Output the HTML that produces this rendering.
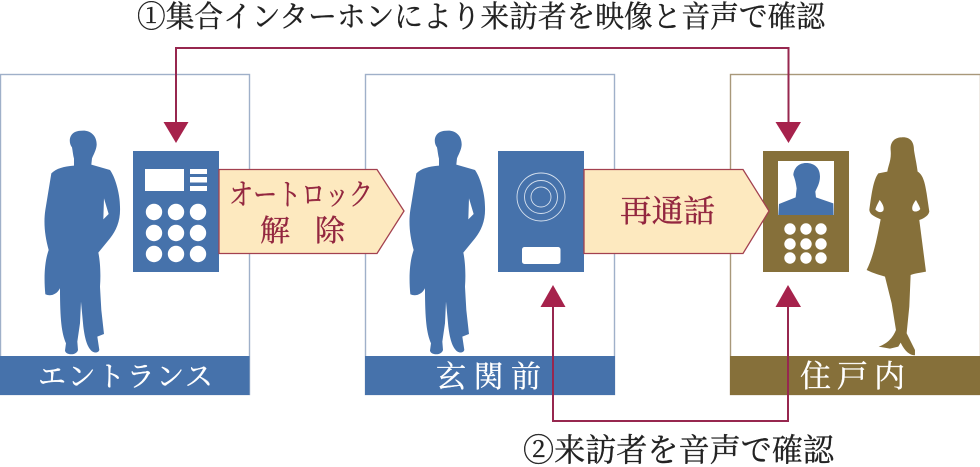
<!DOCTYPE html>
<html><head><meta charset="utf-8"><style>
html,body{margin:0;padding:0;background:#fff;width:980px;height:467px;overflow:hidden}
svg{display:block}
text{font-family:"Liberation Serif","Noto Serif CJK SC",serif}
</style></head><body>
<svg width="980" height="467" viewBox="0 0 980 467" xmlns="http://www.w3.org/2000/svg">
<rect width="980" height="467" fill="#fff"/>
<!-- boxes -->
<rect x="0.5" y="74.5" width="249" height="320" fill="#fff" stroke="#9fb0c9" stroke-width="1.4"/>
<rect x="365.5" y="74.5" width="249" height="320" fill="#fff" stroke="#9fb0c9" stroke-width="1.4"/>
<rect x="730.5" y="74.5" width="250" height="320" fill="#fff" stroke="#a8987a" stroke-width="1.4"/>
<rect x="0" y="356" width="249.500" height="39" fill="#4672ab"/>
<rect x="365" y="356" width="250" height="39" fill="#4672ab"/>
<rect x="730" y="356" width="250" height="39" fill="#86703a"/>
<!-- men -->
<g transform="translate(0,60) scale(0.3333)">
<path fill="#4672ab" d="M250 212C272 212 291 228 290 255C289 270 280 285 276 295L274 314L330 330C345 350 360 400 360 440C362 480 350 510 330 535L295 578C300 600 303 640 300 680L304 750L312 822L292 830L298 870C295 880 280 880 272 870C262 858 255 840 250 800L243 725L240 790L232 845L234 870C230 887 198 887 195 872L198 850C185 820 180 780 180 685C170 705 150 710 136 703C132 660 132 610 146 570C135 530 130 490 136 450L154 340C170 325 190 320 222 317L222 296C219 285 218 272 216 262C206 250 206 225 225 216C232 213 240 212 250 212Z"/>
<path fill="#fff" d="M312 415L326 462L310 478Z"/>
</g>
<g transform="translate(365,60) scale(0.3333)">
<path fill="#4672ab" d="M250 212C272 212 291 228 290 255C289 270 280 285 276 295L274 314L330 330C345 350 360 400 360 440C362 480 350 510 330 535L295 578C300 600 303 640 300 680L304 750L312 822L292 830L298 870C295 880 280 880 272 870C262 858 255 840 250 800L243 725L240 790L232 845L234 870C230 887 198 887 195 872L198 850C185 820 180 780 180 685C170 705 150 710 136 703C132 660 132 610 146 570C135 530 130 490 136 450L154 340C170 325 190 320 222 317L222 296C219 285 218 272 216 262C206 250 206 225 225 216C232 213 240 212 250 212Z"/>
<path fill="#fff" d="M312 415L326 462L310 478Z"/>
</g>
<!-- woman -->
<g transform="translate(650,60) scale(0.3333)">
<path fill="#86703a" d="M755 232C780 230 792 245 792 270C795 290 800 310 803 335C820 345 825 370 830 400L838 455C835 470 815 478 808 480L828 635C800 640 790 642 782 645L778 740L770 820L795 870L795 886C780 886 765 875 752 848L745 860L720 866L686 860C715 850 730 830 738 810L725 730L705 650C690 645 670 640 650 630C670 590 680 540 692 478C675 470 660 465 658 450C665 400 670 360 685 340L712 335C715 315 725 300 722 270C720 245 735 232 755 232Z"/>
<path fill="#fff" d="M689 420C697 430 704 442 700 452C694 460 682 456 676 448C679 438 684 430 689 420Z"/>
<path fill="#fff" d="M798 420C790 430 784 442 788 451C794 458 806 454 811 447C808 437 803 430 798 420Z"/>
</g>
<!-- panel 1 -->
<rect x="133" y="151" width="86" height="121" fill="#4672ab"/>
<rect x="145" y="169" width="39" height="22" fill="#fff"/>
<rect x="190" y="169" width="17" height="5" fill="#fff"/>
<rect x="190" y="177" width="17" height="5.500" fill="#fff"/>
<rect x="190" y="186" width="17" height="5" fill="#fff"/>
<g fill="#fff">
<circle cx="154" cy="212" r="8.200"/><circle cx="176" cy="212" r="8.200"/><circle cx="198" cy="212" r="8.200"/>
<circle cx="154" cy="233" r="8.200"/><circle cx="176" cy="233" r="8.200"/><circle cx="198" cy="233" r="8.200"/>
<circle cx="154" cy="254" r="8.200"/><circle cx="176" cy="254" r="8.200"/><circle cx="198" cy="254" r="8.200"/>
</g>
<!-- panel 2 -->
<rect x="498" y="151" width="86" height="121" fill="#4672ab"/>
<g fill="none" stroke="#d5e0ee" stroke-width="0.9">
<circle cx="541" cy="197" r="24"/><circle cx="541" cy="197" r="16.500"/><circle cx="541" cy="197" r="10"/>
</g>
<rect x="522" y="247" width="38.500" height="17" rx="2.500" fill="#fff"/>
<!-- panel 3 -->
<rect x="763" y="151" width="86" height="121" fill="#86703a"/>
<rect x="778" y="161" width="56" height="54" fill="#fff"/>
<g transform="translate(650,60) scale(0.3333)">
<path fill="#4672ab" d="M468 309C495 309 510 325 510 350C510 370 500 385 496 395L498 412L550 430L551 465L385 465L387 432L437 412L440 385C438 372 436 360 430 345C432 322 448 309 468 309Z"/>
</g>
<g fill="#fff">
<circle cx="790" cy="229" r="5.700"/><circle cx="806" cy="229" r="5.700"/><circle cx="821" cy="229" r="5.700"/>
<circle cx="790" cy="244" r="5.700"/><circle cx="806" cy="244" r="5.700"/><circle cx="821" cy="244" r="5.700"/>
<circle cx="790" cy="258" r="5.700"/><circle cx="806" cy="258" r="5.700"/><circle cx="821" cy="258" r="5.700"/>
</g>
<!-- pentagon arrows -->
<path d="M219 169.500H377L404 211L377 253.500H219Z" fill="#fde9bf" stroke="#a3414f" stroke-width="1.300"/>
<path d="M584 169.500H743L769 211L743 253.500H584Z" fill="#fde9bf" stroke="#a3414f" stroke-width="1.300"/>
<!-- connectors -->
<path d="M176 125V48H788.500V125" fill="none" stroke="#97274f" stroke-width="2"/>
<path d="M553 305V421H788V305" fill="none" stroke="#97274f" stroke-width="2"/>
<g fill="#a6224c">
<path d="M163.500 122H188.500L176 143Z"/>
<path d="M775.500 122H801L788.500 143Z"/>
<path d="M540.500 307H565.500L553 285Z"/>
<path d="M775.500 307H801L788 285Z"/>
</g>
<!-- labels -->
<text x="137" y="27" font-size="30" textLength="688" lengthAdjust="spacingAndGlyphs" fill="#222" stroke="#222" stroke-width="0.35">①集合インターホンにより来訪者を映像と音声で確認</text>
<text x="523" y="461" font-size="32" textLength="311" lengthAdjust="spacingAndGlyphs" fill="#222" stroke="#222" stroke-width="0.35">②来訪者を音声で確認</text>
<text x="229" y="205" font-size="30" textLength="144" lengthAdjust="spacingAndGlyphs" fill="#93263f" stroke="#93263f" stroke-width="0.35">オートロック</text>
<text x="260" y="241" font-size="30" textLength="85" fill="#93263f" stroke="#93263f" stroke-width="0.35" xml:space="preserve">解 除</text>
<text x="620" y="222" font-size="31" textLength="95" lengthAdjust="spacingAndGlyphs" fill="#93263f" stroke="#93263f" stroke-width="0.35">再通話</text>
<text x="38" y="386" font-size="28" textLength="175" fill="#fff" stroke="#fff" stroke-width="0.35">エントランス</text>
<text x="436" y="387" font-size="30" textLength="105" fill="#fff" stroke="#fff" stroke-width="0.35">玄関前</text>
<text x="800" y="387" font-size="31" textLength="105" fill="#fff" stroke="#fff" stroke-width="0.35">住戸内</text>
</svg>
</body></html>
